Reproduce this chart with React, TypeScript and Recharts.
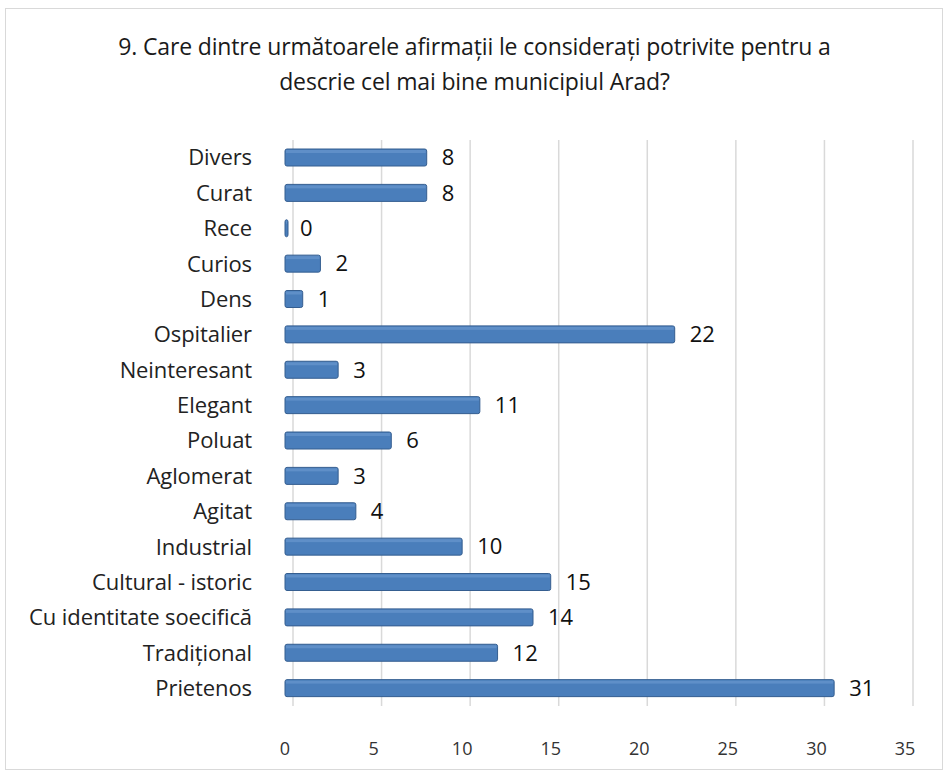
import React from 'react';
import { BarChart, Bar, XAxis, YAxis, CartesianGrid, LabelList } from 'recharts';

const categories = [
  'Divers', 'Curat', 'Rece', 'Curios', 'Dens', 'Ospitalier', 'Neinteresant', 'Elegant',
  'Poluat', 'Aglomerat', 'Agitat', 'Industrial', 'Cultural - istoric',
  'Cu identitate soecifică', 'Tradițional', 'Prietenos',
];
const values = [8, 8, 0, 2, 1, 22, 3, 11, 6, 3, 4, 10, 15, 14, 12, 31];
const xTicks = [0, 5, 10, 15, 20, 25, 30, 35];
const titleLines = [
  '9. Care dintre următoarele afirmații le considerați potrivite pentru a',
  'descrie cel mai bine municipiul Arad?',
];

const data = categories.map((name, i) => ({ name, value: values[i] }));

const FONT = 'Open Sans, Liberation Sans, sans-serif';

const BarShape = (props: any) => {
  const { x, y, width, height } = props;
  const w = Math.max(width, 3);
  return (
    <g>
      <rect x={x} y={y} width={w} height={height} rx={2} fill="#4A7EBB" stroke="#355E90" strokeWidth={1} />
      <rect x={x + 1} y={y + 1} width={Math.max(w - 2, 0)} height={3} fill="#5F8FC8" />
    </g>
  );
};

const gridX = (args: any) => {
  const xAxis = args?.xAxis;
  if (xAxis && typeof xAxis.scale === 'function') {
    return xTicks.map((t) => xAxis.scale(t) + 8);
  }
  const off = args.offset;
  return xTicks.map((t) => off.left + (t / 35) * off.width + 8);
};

export default function App() {
  return (
    <div style={{ position: 'absolute', left: 0, top: 0, width: 949, height: 772, background: '#fff', fontFamily: FONT }}>
      <div style={{ position: 'absolute', left: 5, top: 8, width: 938, height: 762, border: '1px solid #d9d9d9', boxSizing: 'border-box' }} />
      <div style={{ position: 'absolute', left: 0, top: 29, width: 949, textAlign: 'center', fontSize: 23, lineHeight: '35px', color: '#1a1a1a', letterSpacing: -0.15 }}>
        {titleLines.map((t) => <div key={t}>{t}</div>)}
      </div>
      <div style={{ position: 'absolute', left: 0, top: 0 }}>
        <BarChart
          width={949}
          height={772}
          data={data}
          layout="vertical"
          margin={{ top: 140, right: 44, bottom: 36, left: 0 }}
          barSize={17}
        >
          <CartesianGrid horizontal={false} vertical stroke="#d9d9d9" strokeWidth={1.5} verticalCoordinatesGenerator={gridX} />
          <XAxis
            type="number"
            domain={[0, 35]}
            ticks={xTicks}
            axisLine={false}
            tickLine={false}
            tickMargin={30}
            height={30}
            tick={{ fontSize: 18, fill: '#333', fontFamily: FONT }}
          />
          <YAxis
            type="category"
            dataKey="name"
            width={285}
            axisLine={false}
            tickLine={false}
            tickMargin={27}
            interval={0}
            tick={{ fontSize: 22, fill: '#222', fontFamily: FONT, letterSpacing: -0.1 }}
          />
          <Bar dataKey="value" isAnimationActive={false} shape={<BarShape />}>
            <LabelList dataKey="value" position="right" offset={15} style={{ fontSize: 22, fill: '#111', fontFamily: FONT }} />
          </Bar>
        </BarChart>
      </div>
    </div>
  );
}
